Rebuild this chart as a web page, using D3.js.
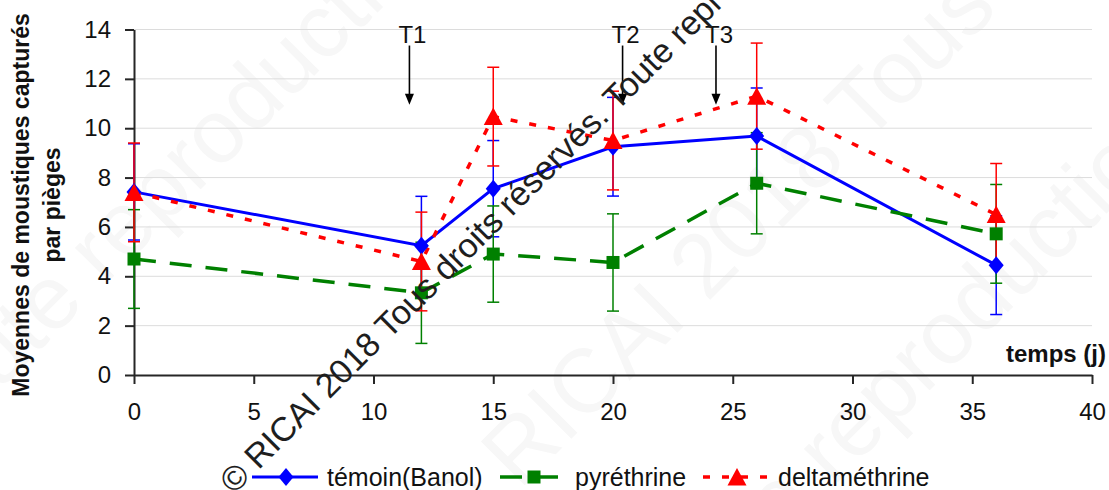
<!DOCTYPE html>
<html>
<head>
<meta charset="utf-8">
<script src="https://cdn.jsdelivr.net/npm/d3@7"></script>
<style>
  body { margin: 0; background: #fff; }
  svg { display: block; font-family: "Liberation Sans", Arial, sans-serif; }
  .axis path, .axis line { stroke: #262626; stroke-width: 2; }
  .axis text { font-size: 24px; fill: #111; }
</style>
</head>
<body>
<div id="chart"></div>
<script>
// jours de capture
const days = [0, 12, 15, 20, 26, 36];

const temoin = [7.42, 5.24, 7.55, 9.25, 9.68, 4.45];
const temoinErr = [1.95, 2.0, 1.95, 2.0, 1.95, 2.0];

const pyrethrine = [4.7, 3.33, 4.9, 4.56, 7.77, 5.72];
const pyrethrineErr = [2.0, 2.05, 1.95, 1.97, 2.05, 2.0];

const deltamethrine = [7.4, 4.6, 10.47, 9.5, 11.3, 6.5];
const deltamethrineErr = [2.0, 2.0, 2.0, 2.0, 2.15, 2.07];

const seriesNames = ['témoin(Banol)', 'pyréthrine', 'deltaméthrine'];

const xTicks = [0, 5, 10, 15, 20, 25, 30, 35, 40];
const yTicks = [0, 2, 4, 6, 8, 10, 12, 14];

// traitements
const treatLabels = ['T1', 'T2', 'T3'];
const treatDays = [11.5, 20.4, 24.3];
const arrowTop = 13.35;
const arrowBottom = 10.95;

const watermark = '© RICAI 2018 Tous droits réservés. Toute reproduction interdite';

const width = 1109, height = 490;

let svg = d3.select('#chart')
  .append('svg')
  .attr('width', width)
  .attr('height', height);

svg.append('rect').attr('width', width).attr('height', height).attr('fill', '#fff');

// faint background watermarks
[[455, 555, watermark], [-69, 459, 'Toute reproduction interdite'], [660, 660, 'Toute reproduction interdite']].forEach(p => {
  svg.append('text')
    .attr('transform', `translate(${p[0]},${p[1]}) rotate(-45)`)
    .attr('font-size', 90)
    .attr('fill', '#f7f7f7')
    .text(p[2]);
});

let x = d3.scaleLinear().domain([0, 40]).range([134, 1092]);
let y = d3.scaleLinear().domain([0, 14]).range([375, 29.5]);

// grid
svg.append('g')
  .selectAll('line')
  .data(yTicks.filter(d => d > 0))
  .join('line')
  .attr('x1', x(0))
  .attr('x2', x(40))
  .attr('y1', d => y(d))
  .attr('y2', d => y(d))
  .attr('stroke', '#dcdcdc')
  .attr('stroke-width', 1);

svg.append('g')
  .attr('class', 'axis')
  .attr('transform', `translate(${x(0)},0)`)
  .call(d3.axisLeft(y).tickValues(yTicks).tickSize(9).tickSizeOuter(0).tickPadding(14));

svg.append('g')
  .attr('class', 'axis')
  .attr('transform', `translate(0,${y(0)})`)
  .call(d3.axisBottom(x).tickValues(xTicks).tickSize(9).tickSizeOuter(0).tickPadding(19));

// axis titles
svg.append('text')
  .attr('transform', 'translate(29,205) rotate(-90)')
  .attr('font-size', 23).attr('font-weight', 'bold').attr('text-anchor', 'middle').attr('fill', '#111')
  .text('Moyennes de moustiques capturés');
svg.append('text')
  .attr('transform', 'translate(60,205) rotate(-90)')
  .attr('font-size', 23).attr('font-weight', 'bold').attr('text-anchor', 'middle').attr('fill', '#111')
  .text('par pièges');

svg.append('text')
  .attr('x', 1106)
  .attr('y', 362)
  .attr('font-size', 24)
  .attr('font-weight', 'bold')
  .attr('text-anchor', 'end')
  .attr('fill', '#111')
  .text('temps (j)');

// treatment arrows
treatDays.forEach((d, i) => {
  let g = svg.append('g');
  g.append('line')
    .attr('x1', x(d)).attr('x2', x(d))
    .attr('y1', y(arrowTop)).attr('y2', y(arrowBottom) - 6)
    .attr('stroke', '#000').attr('stroke-width', 1.6);
  g.append('path')
    .attr('transform', `translate(${x(d)},${y(arrowBottom)})`)
    .attr('d', 'M0,0L-4.5,-11L4.5,-11Z')
    .attr('fill', '#000');
  g.append('text')
    .attr('x', x(d) + 3)
    .attr('y', 43)
    .attr('font-size', 24)
    .attr('text-anchor', 'middle')
    .attr('fill', '#111')
    .text(treatLabels[i]);
});

const markers = {
  diamond: 'M0,-9L7.5,0L0,9L-7.5,0Z',
  square: 'M-6.5,-6.5H6.5V6.5H-6.5Z',
  triangle: 'M0,-9L9.5,8.5L-9.5,8.5Z'
};

let series = [
  { name: seriesNames[0], values: temoin, err: temoinErr, color: '#0000ff', dash: null, width: 3, marker: markers.diamond },
  { name: seriesNames[1], values: pyrethrine, err: pyrethrineErr, color: '#008000', dash: '22,14', width: 3.5, marker: markers.square },
  { name: seriesNames[2], values: deltamethrine, err: deltamethrineErr, color: '#ff0000', dash: '7,12', width: 3.5, marker: markers.triangle }
];

let points = s => days.map((d, i) => ({ day: d, v: s.values[i], e: s.err[i] }));

// error bars
series.forEach(s => {
  let g = svg.append('g').attr('stroke', s.color).attr('stroke-width', 1.5);
  points(s).forEach(p => {
    g.append('line')
      .attr('x1', x(p.day)).attr('x2', x(p.day))
      .attr('y1', y(p.v - p.e)).attr('y2', y(p.v + p.e));
    [p.v - p.e, p.v + p.e].forEach(v => {
      g.append('line')
        .attr('x1', x(p.day) - 6).attr('x2', x(p.day) + 6)
        .attr('y1', y(v)).attr('y2', y(v));
    });
  });
});

let line = d3.line().x(d => x(d.day)).y(d => y(d.v));

series.forEach(s => {
  svg.append('path')
    .datum(points(s))
    .attr('d', line)
    .attr('fill', 'none')
    .attr('stroke', s.color)
    .attr('stroke-width', s.width)
    .attr('stroke-dasharray', s.dash);
});

series.forEach(s => {
  svg.append('g')
    .selectAll('path')
    .data(points(s))
    .join('path')
    .attr('transform', d => `translate(${x(d.day)},${y(d.v)})`)
    .attr('d', s.marker)
    .attr('fill', s.color);
});

// legend
const legendX = [252, 500, 703];
const legendY = 477;
series.forEach((s, i) => {
  let g = svg.append('g').attr('transform', `translate(${legendX[i]},${legendY})`);
  g.append('line')
    .attr('x1', 0).attr('x2', 66)
    .attr('stroke', s.color)
    .attr('stroke-width', s.width)
    .attr('stroke-dasharray', s.dash);
  g.append('path')
    .attr('transform', 'translate(34,0)')
    .attr('d', s.marker)
    .attr('fill', s.color);
  g.append('text')
    .attr('x', 75)
    .attr('y', 9)
    .attr('font-size', 25)
    .attr('fill', '#111')
    .text(s.name);
});

// main watermark
svg.append('text')
  .attr('transform', 'translate(234,495) rotate(-45)')
  .attr('font-size', 34)
  .attr('fill', '#1e1e1e')
  .text(watermark);
</script>
</body>
</html>
